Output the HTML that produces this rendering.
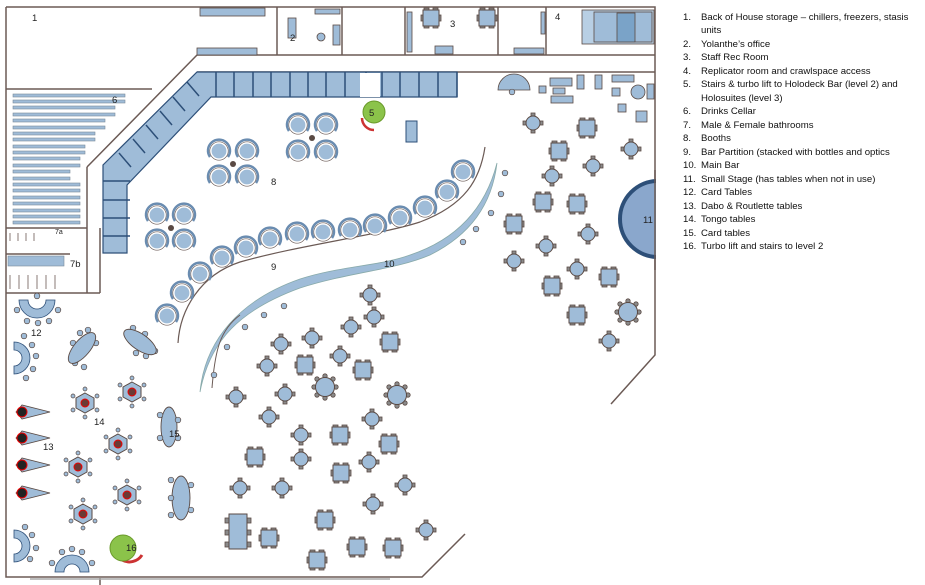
<!DOCTYPE html>
<html><head><meta charset="utf-8"><style>
html,body{margin:0;padding:0;background:#fff;}
svg{display:block;}
.t{font-family:"Liberation Sans",sans-serif;font-size:9.5px;fill:#222;}
.l{font-family:"Liberation Sans",sans-serif;font-size:9.6px;fill:#111;}
</style></head><body>
<svg width="925" height="585" viewBox="0 0 925 585" xmlns="http://www.w3.org/2000/svg">
<defs>
<clipPath id="cl"><rect x="0" y="0" width="656" height="585"/></clipPath>
<g id="sq"><rect x="-7" y="-10" width="5" height="3" fill="#8a8a8a" stroke="#5a4a44" stroke-width=".8"/><rect x="2" y="-10" width="5" height="3" fill="#8a8a8a" stroke="#5a4a44" stroke-width=".8"/><rect x="-7" y="7" width="5" height="3" fill="#8a8a8a" stroke="#5a4a44" stroke-width=".8"/><rect x="2" y="7" width="5" height="3" fill="#8a8a8a" stroke="#5a4a44" stroke-width=".8"/><rect x="-10" y="-3" width="3" height="6" fill="#8a8a8a" stroke="#5a4a44" stroke-width=".8"/><rect x="7" y="-3" width="3" height="6" fill="#8a8a8a" stroke="#5a4a44" stroke-width=".8"/><rect x="-8" y="-8" width="16" height="16" fill="#9fbcd8" stroke="#5a4a44" stroke-width="1"/></g>
<g id="rd"><rect x="-2" y="-10" width="4" height="3" fill="#8a8a8a" stroke="#5a4a44" stroke-width=".8"/><rect x="-2" y="7" width="4" height="3" fill="#8a8a8a" stroke="#5a4a44" stroke-width=".8"/><rect x="-10" y="-2" width="3" height="4" fill="#8a8a8a" stroke="#5a4a44" stroke-width=".8"/><rect x="7" y="-2" width="3" height="4" fill="#8a8a8a" stroke="#5a4a44" stroke-width=".8"/><circle r="7" fill="#9fbcd8" stroke="#5a4a44" stroke-width="1"/></g>
<g id="big"><g fill="#8a8a8a" stroke="#5a4a44" stroke-width=".8"><circle cx="0" cy="-11" r="2.2"/><circle cx="0" cy="11" r="2.2"/><circle cx="-11" cy="0" r="2.2"/><circle cx="11" cy="0" r="2.2"/><circle cx="8" cy="8" r="2.2"/><circle cx="-8" cy="8" r="2.2"/><circle cx="8" cy="-8" r="2.2"/><circle cx="-8" cy="-8" r="2.2"/></g><circle r="9.5" fill="#9fbcd8" stroke="#5a4a44" stroke-width="1"/></g>
<g id="bo"><path d="M -9 6 A 11 11 0 1 1 9 6" fill="none" stroke="#6a8cb0" stroke-width="2.5"/><circle r="8" fill="#9fbcd8" stroke="#fff" stroke-width="1.2"/><circle r="9.2" fill="none" stroke="#6a5a55" stroke-width=".6"/></g>
<g id="hx"><g fill="#9fbcd8" stroke="#5a4a44" stroke-width=".7"><circle cx="0" cy="-14" r="2"/><circle cx="12" cy="-7" r="2"/><circle cx="12" cy="7" r="2"/><circle cx="0" cy="14" r="2"/><circle cx="-12" cy="7" r="2"/><circle cx="-12" cy="-7" r="2"/></g><polygon points="0,-10 9,-5 9,5 0,10 -9,5 -9,-5" fill="#9fbcd8" stroke="#5a4a44" stroke-width="1"/><circle r="4" fill="#6b3a36" stroke="#e00" stroke-width="1"/></g>
<g id="kite"><polygon points="-14,0 -8,-7 20,0 -8,7" fill="#9fbcd8" stroke="#5a4a44" stroke-width=".8"/><circle cx="-8" r="5" fill="#222" stroke="#e00" stroke-width="1"/></g>
<g id="st"><circle r="2.8" fill="#9fbcd8" stroke="#5a4a44" stroke-width=".7"/></g>
</defs>

<!-- walls -->
<g fill="none" stroke="#6b5a55" stroke-width="1.5">
<polyline points="6,7 655,7 655,355 611,404"/>
<polyline points="465,534 422,577 6,577 6,7"/>
<line x1="197" y1="55" x2="655" y2="55"/>
<line x1="197" y1="72" x2="655" y2="72"/>
<line x1="197" y1="55" x2="87" y2="167"/>
<line x1="6" y1="89" x2="152" y2="89"/>
<line x1="87" y1="167" x2="87" y2="293"/>
<line x1="100" y1="228" x2="100" y2="293"/>
<line x1="6" y1="293" x2="100" y2="293"/>
<line x1="6" y1="228" x2="87" y2="228"/>
<line x1="6" y1="254" x2="70" y2="254"/>
<line x1="277" y1="7" x2="277" y2="55"/>
<line x1="342" y1="7" x2="342" y2="55"/>
<line x1="405" y1="7" x2="405" y2="55"/>
<line x1="498" y1="7" x2="498" y2="55"/>
<line x1="546" y1="7" x2="546" y2="55"/>
<line x1="100" y1="578" x2="100" y2="585"/>
</g>
<line x1="30" y1="579" x2="390" y2="579" stroke="#aaa" stroke-width="1.5"/>

<!-- top rooms furniture -->
<g fill="#9fbcd8" stroke="#5a4a44" stroke-width=".8">
<rect x="200" y="8" width="65" height="8"/><rect x="197" y="48" width="60" height="7"/>
<rect x="288" y="18" width="8" height="20"/><circle cx="321" cy="37" r="4"/><rect x="333" y="25" width="7" height="20"/><rect x="315" y="9" width="25" height="5"/>
<rect x="407" y="12" width="5" height="40"/>
<use href="#sq" x="431" y="18"/><use href="#sq" x="487" y="18"/>
<rect x="435" y="46" width="18" height="8"/><rect x="514" y="48" width="30" height="6"/>
<rect x="541" y="12" width="4" height="22"/>
<rect x="582" y="10" width="72" height="34" fill="#b8cfe4"/><rect x="594" y="12" width="58" height="30"/><rect x="617" y="13" width="18" height="29" fill="#7aa3c8"/>
</g>

<!-- cellar shelves -->
<g fill="#9fbcd8" stroke="#7a8a9a" stroke-width=".6">
<rect x="13" y="94" width="112" height="3"/><rect x="13" y="100" width="112" height="3"/><rect x="13" y="106" width="102" height="3"/><rect x="13" y="113" width="102" height="3"/><rect x="13" y="119" width="92" height="3"/><rect x="13" y="126" width="92" height="3"/><rect x="13" y="132" width="82" height="3"/><rect x="13" y="138" width="82" height="3"/><rect x="13" y="145" width="72" height="3"/><rect x="13" y="151" width="72" height="3"/><rect x="13" y="157" width="67" height="3"/><rect x="13" y="164" width="67" height="3"/><rect x="13" y="170" width="57" height="3"/><rect x="13" y="177" width="57" height="3"/><rect x="13" y="183" width="67" height="3"/><rect x="13" y="189" width="67" height="3"/><rect x="13" y="196" width="67" height="3"/><rect x="13" y="202" width="67" height="3"/><rect x="13" y="209" width="67" height="3"/><rect x="13" y="215" width="67" height="3"/><rect x="13" y="221" width="67" height="3"/>
<rect x="8" y="256" width="56" height="10"/>
</g>
<g fill="none" stroke="#6b5a55" stroke-width=".8">
<path d="M10 233 v8 M18 233 v8 M26 233 v8 M34 233 v8 M10 275 v14 M19 275 v14 M28 275 v14 M37 275 v14 M46 275 v14 M55 275 v14"/>
</g>

<!-- bar counter -->
<g fill="#9fbcd8" stroke="#2d4f78" stroke-width="1.2">
<polygon points="197,72 457,72 457,97 211,97 127,185 127,253 103,253 103,165"/>
</g>
<g stroke="#2d4f78" stroke-width="1.5">
<path d="M216 72v25M234 72v25M253 72v25M271 72v25M290 72v25M308 72v25M326 72v25M345 72v25M366 72v25M382 72v25M400 72v25M419 72v25M438 72v25M457 72v25"/>
<path d="M187 82l12 14M173 97l12 14M160 111l12 14M146 125l12 14M133 139l12 14M119 153l12 14M103 181h27M103 200h27M103 218h27M103 236h27"/>
</g>
<rect x="360" y="73" width="20" height="24" fill="#fff"/>

<!-- stairs 5 & green -->
<path d="M362 118 a12 12 0 0 0 12 12" fill="none" stroke="#c33" stroke-width="2.5"/>
<circle cx="374" cy="112" r="11" fill="#8bc34a" stroke="#6a9a2a"/>
<rect x="406" y="121" width="11" height="21" fill="#9fbcd8" stroke="#2d4f78"/>
<path d="M498 90 a16 16 0 0 1 32 0 z" fill="#9fbcd8" stroke="#5a4a44" stroke-width=".8"/>
<g fill="#9fbcd8" stroke="#5a4a44" stroke-width=".8">
<rect x="550" y="78" width="22" height="8"/><rect x="539" y="86" width="7" height="7"/><rect x="553" y="88" width="12" height="6"/><rect x="551" y="96" width="22" height="7"/><rect x="577" y="75" width="7" height="14"/><rect x="595" y="75" width="7" height="14"/><rect x="612" y="75" width="22" height="7"/><rect x="612" y="88" width="8" height="8"/><circle cx="638" cy="92" r="7"/><rect x="647" y="84" width="7" height="15"/><rect x="618" y="104" width="8" height="8"/><rect x="636" y="111" width="11" height="11"/>
</g>

<!-- stage 11 -->
<circle cx="658" cy="219" r="38" fill="#8aa7cc" stroke="#2d4f78" stroke-width="4" clip-path="url(#cl)"/>
<line x1="655" y1="170" x2="655" y2="270" stroke="#6b5a55" stroke-width="1.5"/>

<!-- booth clusters -->
<g>
<use href="#bo" x="298" y="125"/><use href="#bo" x="326" y="125"/><use href="#bo" x="298" y="152"/><use href="#bo" x="326" y="152"/><circle cx="312" cy="138" r="3" fill="#5a4a44"/>
<use href="#bo" x="219" y="151"/><use href="#bo" x="247" y="151"/><use href="#bo" x="219" y="177"/><use href="#bo" x="247" y="177"/><circle cx="233" cy="164" r="3" fill="#5a4a44"/>
<use href="#bo" x="157" y="215"/><use href="#bo" x="184" y="215"/><use href="#bo" x="157" y="241"/><use href="#bo" x="184" y="241"/><circle cx="171" cy="228" r="3" fill="#5a4a44"/>
</g>

<!-- bar partition 9 -->
<path d="M178 343 C180 310 200 275 240 262 C300 245 380 235 420 222 C465 205 480 180 485 147" fill="none" stroke="#6b5a55" stroke-width="1.2"/>
<g>
<use href="#bo" x="167" y="316"/><use href="#bo" x="182" y="293"/><use href="#bo" x="200" y="274"/><use href="#bo" x="222" y="258"/><use href="#bo" x="246" y="248"/><use href="#bo" x="270" y="239"/><use href="#bo" x="297" y="234"/><use href="#bo" x="323" y="232"/><use href="#bo" x="350" y="230"/><use href="#bo" x="375" y="226"/><use href="#bo" x="400" y="218"/><use href="#bo" x="425" y="208"/><use href="#bo" x="447" y="192"/><use href="#bo" x="463" y="172"/>
</g>

<!-- main bar 10 -->
<path d="M200 392 C205 340 240 300 300 279 C340 266 380 266 410 255 C455 240 485 210 497 163 C492 205 470 235 430 255 C395 270 350 272 300 288 C240 310 210 340 200 392 z" fill="#9fbcd8" stroke="#8aa" stroke-width=".8"/>
<path d="M212 388 C215 350 220 330 240 315" fill="none" stroke="#6b5a55" stroke-width="1"/>

<!-- stools -->
<g><use href="#st" x="505" y="173"/><use href="#st" x="501" y="194"/><use href="#st" x="491" y="213"/><use href="#st" x="476" y="229"/><use href="#st" x="463" y="242"/><use href="#st" x="284" y="306"/><use href="#st" x="264" y="315"/><use href="#st" x="245" y="327"/><use href="#st" x="227" y="347"/><use href="#st" x="214" y="375"/><use href="#st" x="512" y="92"/></g>

<!-- right tables -->
<g>
<use href="#rd" x="533" y="123"/><use href="#sq" x="587" y="128"/><use href="#rd" x="631" y="149"/><use href="#sq" x="559" y="151"/><use href="#rd" x="593" y="166"/><use href="#rd" x="552" y="176"/><use href="#sq" x="543" y="202"/><use href="#sq" x="577" y="204"/><use href="#sq" x="514" y="224"/><use href="#rd" x="588" y="234"/><use href="#rd" x="546" y="246"/><use href="#rd" x="514" y="261"/><use href="#rd" x="577" y="269"/><use href="#sq" x="609" y="277"/><use href="#sq" x="552" y="286"/><use href="#sq" x="577" y="315"/><use href="#big" x="628" y="312"/><use href="#rd" x="609" y="341"/>
</g>

<!-- center tables -->
<g>
<use href="#rd" x="370" y="295"/><use href="#rd" x="374" y="317"/><use href="#rd" x="351" y="327"/><use href="#rd" x="312" y="338"/><use href="#rd" x="281" y="344"/><use href="#sq" x="390" y="342"/><use href="#rd" x="267" y="366"/><use href="#sq" x="305" y="365"/><use href="#rd" x="340" y="356"/><use href="#sq" x="363" y="370"/><use href="#big" x="325" y="387"/><use href="#big" x="397" y="395"/><use href="#rd" x="236" y="397"/><use href="#rd" x="285" y="394"/><use href="#rd" x="269" y="417"/><use href="#rd" x="372" y="419"/><use href="#rd" x="301" y="435"/><use href="#sq" x="340" y="435"/><use href="#sq" x="389" y="444"/><use href="#sq" x="255" y="457"/><use href="#rd" x="301" y="459"/><use href="#rd" x="369" y="462"/><use href="#sq" x="341" y="473"/><use href="#rd" x="405" y="485"/><use href="#rd" x="240" y="488"/><use href="#rd" x="282" y="488"/><use href="#rd" x="373" y="504"/><use href="#sq" x="325" y="520"/><use href="#rd" x="426" y="530"/><use href="#sq" x="269" y="538"/><use href="#sq" x="357" y="547"/><use href="#sq" x="393" y="548"/><use href="#sq" x="317" y="560"/>
</g>
<g fill="#8a8a8a" stroke="#5a4a44" stroke-width=".8"><rect x="225" y="518" width="4" height="5"/><rect x="225" y="530" width="4" height="5"/><rect x="225" y="542" width="4" height="5"/><rect x="247" y="518" width="4" height="5"/><rect x="247" y="530" width="4" height="5"/><rect x="247" y="542" width="4" height="5"/></g>
<rect x="229" y="514" width="18" height="35" fill="#9fbcd8" stroke="#5a4a44"/>

<!-- left: card tables 12 -->
<g fill="#9fbcd8" stroke="#2d4f78" stroke-width=".8">
<path d="M19 300 a18 18 0 0 0 36 0 h-9 a9 9 0 0 1 -18 0 z"/>
<path d="M14 342 a16 16 0 0 1 0 32 v-8 a8 8 0 0 0 0 -16 z"/>
<path d="M14 530 a16 16 0 0 1 0 32 v-8 a8 8 0 0 0 0 -16 z"/>
<path d="M55 572 a17 17 0 0 1 34 0 h-9 a8 8 0 0 0 -16 0 z"/>
</g>
<g><use href="#st" x="17" y="310"/><use href="#st" x="27" y="321"/><use href="#st" x="38" y="323"/><use href="#st" x="49" y="321"/><use href="#st" x="58" y="310"/><use href="#st" x="37" y="296"/><use href="#st" x="32" y="345"/><use href="#st" x="36" y="356"/><use href="#st" x="33" y="369"/><use href="#st" x="26" y="378"/><use href="#st" x="24" y="336"/><use href="#st" x="32" y="535"/><use href="#st" x="36" y="548"/><use href="#st" x="30" y="559"/><use href="#st" x="25" y="527"/><use href="#st" x="52" y="563"/><use href="#st" x="62" y="552"/><use href="#st" x="72" y="549"/><use href="#st" x="82" y="552"/><use href="#st" x="92" y="563"/></g>
<!-- dabo 13 -->
<g><use href="#kite" x="30" y="412"/><use href="#kite" x="30" y="438"/><use href="#kite" x="30" y="465"/><use href="#kite" x="30" y="493"/></g>
<!-- tongo 14 -->
<g><use href="#hx" x="85" y="403"/><use href="#hx" x="132" y="392"/><use href="#hx" x="118" y="444"/><use href="#hx" x="78" y="467"/><use href="#hx" x="127" y="495"/><use href="#hx" x="83" y="514"/></g>
<!-- card tables 15 -->
<g><use href="#st" x="73" y="343"/><use href="#st" x="80" y="333"/><use href="#st" x="88" y="330"/><use href="#st" x="96" y="343"/><use href="#st" x="75" y="363"/><use href="#st" x="84" y="367"/><use href="#st" x="128" y="334"/><use href="#st" x="133" y="328"/><use href="#st" x="145" y="334"/><use href="#st" x="155" y="351"/><use href="#st" x="136" y="353"/><use href="#st" x="146" y="356"/></g>
<g fill="#9fbcd8" stroke="#5a4a44" stroke-width=".9">
<ellipse cx="82" cy="348" rx="8" ry="19" transform="rotate(40 82 348)"/>
<ellipse cx="140" cy="342" rx="8" ry="19" transform="rotate(-55 140 342)"/>
<ellipse cx="169" cy="427" rx="8" ry="20"/>
<ellipse cx="181" cy="498" rx="9" ry="22"/>
</g>
<g><use href="#st" x="160" y="415"/><use href="#st" x="160" y="438"/><use href="#st" x="178" y="420"/><use href="#st" x="178" y="438"/><use href="#st" x="171" y="480"/><use href="#st" x="171" y="498"/><use href="#st" x="171" y="515"/><use href="#st" x="191" y="485"/><use href="#st" x="191" y="510"/></g>
<!-- 16 -->
<path d="M122 560 a15 15 0 0 0 20 -5" fill="none" stroke="#c33" stroke-width="3"/>
<circle cx="123" cy="548" r="13" fill="#8bc34a" stroke="#6a9a2a"/>

<!-- labels -->
<g class="t">
<text x="32" y="21">1</text><text x="290" y="41">2</text><text x="450" y="27">3</text><text x="555" y="20">4</text><text x="369" y="116">5</text><text x="112" y="103">6</text><text x="55" y="234" font-size="7">7a</text><text x="70" y="267">7b</text><text x="271" y="185">8</text><text x="271" y="270">9</text><text x="384" y="267">10</text><text x="643" y="223">11</text><text x="31" y="336">12</text><text x="43" y="450">13</text><text x="94" y="425">14</text><text x="169" y="437">15</text><text x="126" y="551">16</text>
</g>

<!-- legend -->
<g class="l">
<text x="683" y="20">1.</text><text x="701" y="20">Back of House storage – chillers, freezers, stasis</text>
<text x="701" y="33">units</text>
<text x="683" y="47">2.</text><text x="701" y="47">Yolanthe’s office</text>
<text x="683" y="60">3.</text><text x="701" y="60">Staff Rec Room</text>
<text x="683" y="74">4.</text><text x="701" y="74">Replicator room and crawlspace access</text>
<text x="683" y="87">5.</text><text x="701" y="87">Stairs &amp; turbo lift to Holodeck Bar  (level 2)  and</text>
<text x="701" y="101">Holosuites (level 3)</text>
<text x="683" y="114">6.</text><text x="701" y="114">Drinks Cellar</text>
<text x="683" y="128">7.</text><text x="701" y="128">Male &amp; Female bathrooms</text>
<text x="683" y="141">8.</text><text x="701" y="141">Booths</text>
<text x="683" y="155">9.</text><text x="701" y="155">Bar Partition (stacked with bottles and optics</text>
<text x="683" y="168">10.</text><text x="701" y="168">Main Bar</text>
<text x="683" y="182">11.</text><text x="701" y="182">Small Stage (has tables when not in use)</text>
<text x="683" y="195">12.</text><text x="701" y="195">Card Tables</text>
<text x="683" y="209">13.</text><text x="701" y="209">Dabo &amp; Routlette tables</text>
<text x="683" y="222">14.</text><text x="701" y="222">Tongo tables</text>
<text x="683" y="236">15.</text><text x="701" y="236">Card tables</text>
<text x="683" y="249">16.</text><text x="701" y="249">Turbo lift and stairs to level 2</text>
</g>
</svg>
</body></html>
